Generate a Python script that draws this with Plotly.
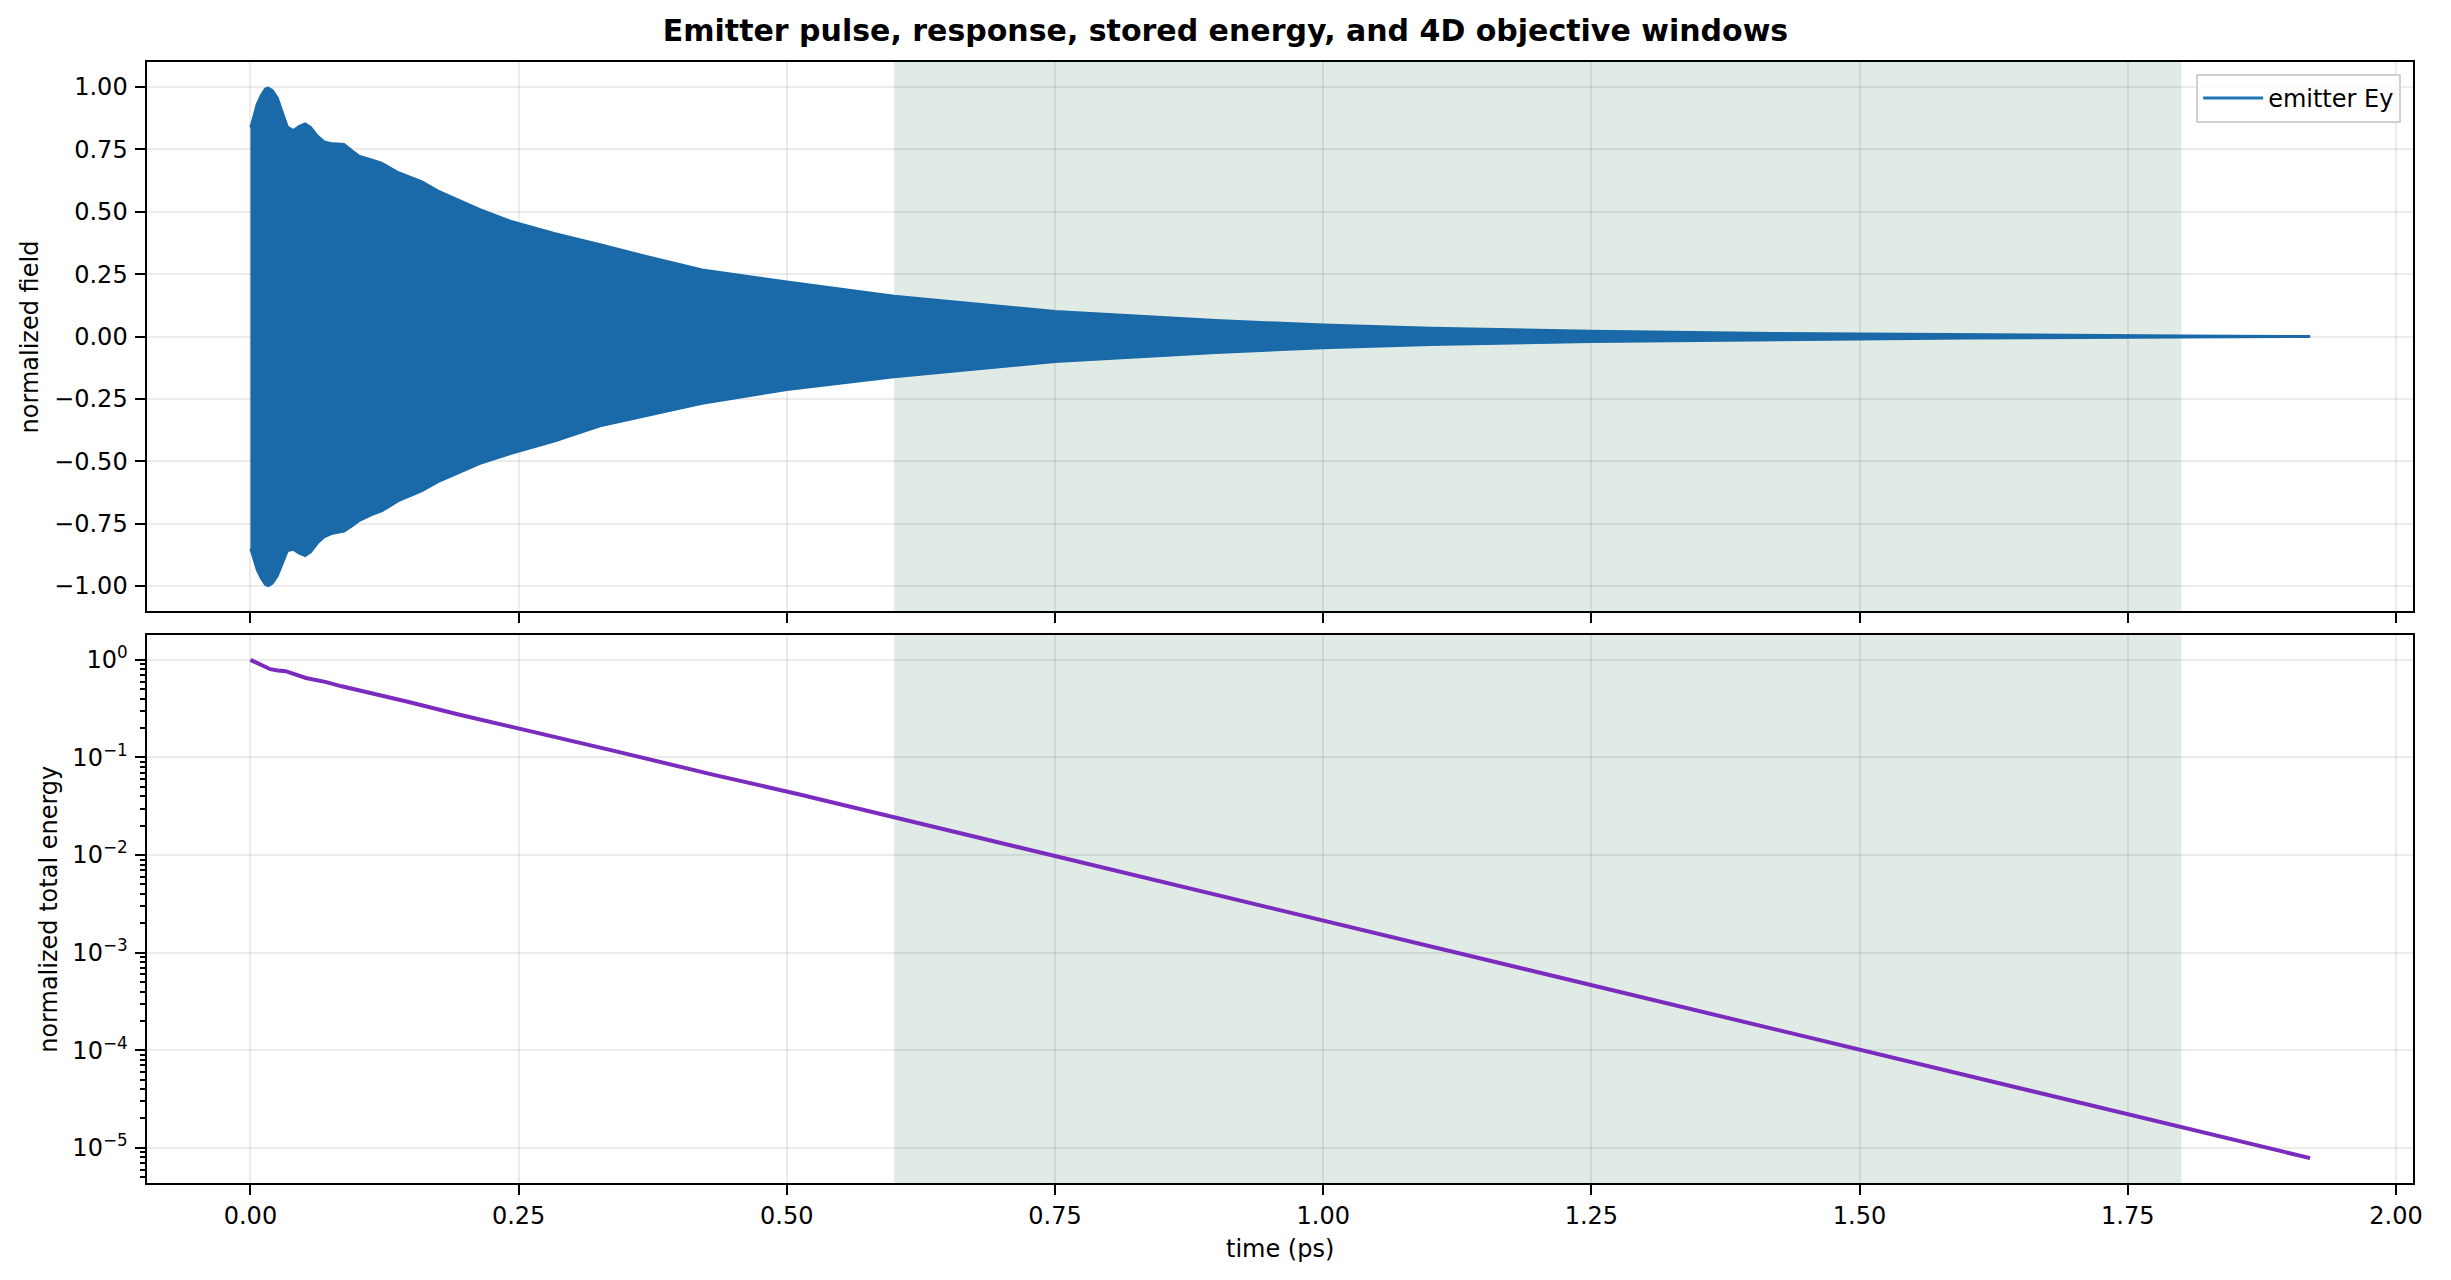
import plotly.graph_objects as go

# emitter Ey envelope (oscillation is too dense to resolve, read as upper/lower edges)
field_t = [0.0, 0.0028, 0.0059, 0.0099, 0.0136, 0.0167, 0.0207, 0.0254, 0.030, 0.0347,
           0.040, 0.0455, 0.051, 0.0563, 0.0625, 0.0687, 0.0765, 0.0873, 0.095, 0.1012,
           0.1136, 0.1228, 0.138, 0.16, 0.1766, 0.214, 0.243, 0.284, 0.326, 0.367,
           0.421, 0.5, 0.6, 0.75, 0.9, 1.0, 1.1, 1.25, 1.42, 1.6, 1.8, 1.92]
field_upper = [0.838, 0.884, 0.931, 0.968, 0.993, 0.997, 0.987, 0.957, 0.898, 0.841,
               0.827, 0.844, 0.854, 0.840, 0.805, 0.782, 0.774, 0.771, 0.745, 0.725,
               0.708, 0.696, 0.658, 0.621, 0.581, 0.510, 0.463, 0.414, 0.370, 0.325,
               0.269, 0.220, 0.163, 0.102, 0.066, 0.048, 0.035, 0.023, 0.014, 0.008,
               0.004, 0.002]
field_lower = [-0.85, -0.89, -0.935, -0.97, -0.995, -1.0, -0.99, -0.96, -0.91, -0.86,
               -0.855, -0.87, -0.88, -0.865, -0.83, -0.805, -0.79, -0.782, -0.76, -0.74,
               -0.715, -0.70, -0.66, -0.62, -0.58, -0.51, -0.47, -0.42, -0.36, -0.32,
               -0.27, -0.214, -0.163, -0.102, -0.066, -0.047, -0.034, -0.022, -0.014,
               -0.008, -0.004, -0.002]

# normalized total energy
energy_t = [0.0, 0.0066, 0.0185, 0.0256, 0.0327, 0.0517, 0.0707, 0.085, 0.1086, 0.1466,
            0.194, 0.25, 0.336, 0.431, 0.511, 0.6, 0.75, 1.0, 1.25, 1.5, 1.75, 1.92]
energy = [1.0, 0.933, 0.803, 0.780, 0.766, 0.653, 0.592, 0.536, 0.467, 0.372,
          0.276, 0.199, 0.119, 0.0668, 0.0420, 0.0244, 0.00977, 0.00214, 0.000468,
          0.000102, 2.21e-5, 7.85e-6]

window = [0.6, 1.8]
x_ticks = [0, 0.25, 0.5, 0.75, 1.0, 1.25, 1.5, 1.75, 2.0]
field_ticks = [-1.0, -0.75, -0.5, -0.25, 0.0, 0.25, 0.5, 0.75, 1.0]
energy_ticks = [1, 1e-1, 1e-2, 1e-3, 1e-4, 1e-5]
energy_labels = ["10<sup>0</sup>", "10<sup>\u22121</sup>", "10<sup>\u22122</sup>",
                 "10<sup>\u22123</sup>", "10<sup>\u22124</sup>", "10<sup>\u22125</sup>"]

W, H = 2451, 1280
FONT = "DejaVu Sans"
FS = 24
BLUE = "#1a69a8"
PURPLE = "#7b2cbf"

fig = go.Figure()

fig.add_trace(go.Scatter(x=field_t, y=field_upper, mode="lines",
                         line=dict(color=BLUE, width=2), showlegend=False,
                         xaxis="x", yaxis="y"))
fig.add_trace(go.Scatter(x=field_t, y=field_lower, mode="lines", fill="tonexty",
                         fillcolor=BLUE, line=dict(color=BLUE, width=2),
                         showlegend=False, xaxis="x", yaxis="y"))
# legend entry
fig.add_trace(go.Scatter(x=[None], y=[None], mode="lines", name="emitter Ey",
                         line=dict(color="#1f77b4", width=3), xaxis="x", yaxis="y"))

fig.add_trace(go.Scatter(x=energy_t, y=energy, mode="lines",
                         line=dict(color=PURPLE, width=4), showlegend=False,
                         xaxis="x2", yaxis="y2"))

for xr, yr in [("x", "y domain"), ("x2", "y2 domain")]:
    fig.add_shape(type="rect", xref=xr, yref=yr, x0=window[0], x1=window[1], y0=0, y1=1,
                  fillcolor="#e0ebe5", line=dict(width=0), layer="below")

minor_vals = [k * 10.0 ** e for e in range(-6, 1) for k in range(2, 10)]

axis_common = dict(showline=True, linecolor="black", linewidth=2, mirror=True,
                   ticks="outside", ticklen=10, tickwidth=2, tickcolor="black",
                   showgrid=True, gridcolor="rgba(0,0,0,0.075)", gridwidth=1.5,
                   zeroline=False, tickfont=dict(family=FONT, size=FS, color="black"))

x_dom = [148 / W, 2422 / W]
fig.update_layout(
    width=W, height=H,
    margin=dict(l=0, r=0, t=0, b=0),
    paper_bgcolor="white", plot_bgcolor="white",
    font=dict(family=FONT, color="black"),
    title=dict(text="<b>Emitter pulse, response, stored energy, and 4D objective windows</b>",
               x=0.5, xanchor="center", y=(H - 30) / H, yanchor="middle",
               font=dict(family=FONT, size=30, color="black")),
    xaxis=dict(domain=x_dom, anchor="y", range=[-0.096, 2.016], tickvals=x_ticks,
               showticklabels=False, **axis_common),
    yaxis=dict(domain=[(H - 611) / H, (H - 62) / H], anchor="x", range=[-1.1, 1.1],
               tickvals=field_ticks, tickformat=".2f", ticklabelstandoff=3, **axis_common),
    xaxis2=dict(domain=x_dom, anchor="y2", range=[-0.096, 2.016], tickvals=x_ticks,
                tickformat=".2f", **axis_common),
    yaxis2=dict(domain=[(H - 1183) / H, (H - 635) / H], anchor="x2", type="log",
                range=[-5.36, 0.255], tickvals=energy_ticks, ticktext=energy_labels,
                ticklabelstandoff=3,
                minor=dict(tickvals=minor_vals, ticks="outside", ticklen=5,
                           tickwidth=1.5, tickcolor="black", showgrid=False),
                **axis_common),
    legend=dict(x=2410 / W, xanchor="right", y=(H - 74) / H, yanchor="top",
                bgcolor="rgba(255,255,255,0.85)", bordercolor="#d0d0d0", borderwidth=2,
                itemwidth=60, font=dict(family=FONT, size=FS, color="black")),
    annotations=[
        dict(text="normalized field", x=30 / W, y=(H - 336.5) / H, xref="paper", yref="paper",
             textangle=-90, showarrow=False, xanchor="center", yanchor="middle",
             font=dict(family=FONT, size=FS, color="black")),
        dict(text="normalized total energy", x=49 / W, y=(H - 909) / H, xref="paper",
             yref="paper", textangle=-90, showarrow=False, xanchor="center",
             yanchor="middle", font=dict(family=FONT, size=FS, color="black")),
        dict(text="time (ps)", x=1285 / W, y=(H - 1249) / H, xref="paper", yref="paper",
             showarrow=False, xanchor="center", yanchor="middle",
             font=dict(family=FONT, size=FS, color="black")),
    ],
)

fig.write_html("out.html", config={"displayModeBar": False},
               post_script="document.body.style.margin='0';")
